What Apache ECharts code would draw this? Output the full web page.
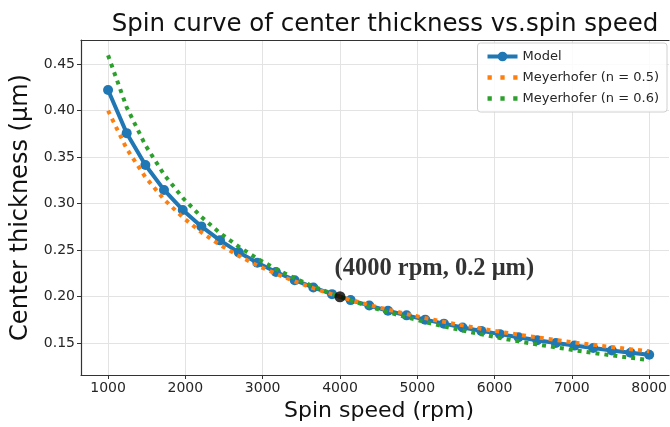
<!DOCTYPE html>
<html>
<head>
<meta charset="utf-8">
<script src="https://cdn.jsdelivr.net/npm/echarts@6/dist/echarts.min.js"></script>
<style>
  html, body { margin: 0; padding: 0; background: #fff; }
  #chart { width: 670px; height: 427px; }
</style>
</head>
<body>
<div id="chart"></div>
<script>
// Spin speed samples (rpm) shared by all three curves.
const speeds = [
  1000, 1241, 1483, 1724, 1966, 2207, 2448, 2690, 2931, 3172,
  3414, 3655, 3897, 4138, 4379, 4621, 4862, 5103, 5345, 5586,
  5828, 6069, 6310, 6552, 6793, 7034, 7276, 7517, 7759, 8000,
];
// Center thickness (µm).
const model = [
  0.4222, 0.3758, 0.3415, 0.3148, 0.2933, 0.2756, 0.2606, 0.2477, 0.2365, 0.2266,
  0.2178, 0.2100, 0.2028, 0.1964, 0.1905, 0.1850, 0.1800, 0.1754, 0.1711, 0.1670,
  0.1633, 0.1598, 0.1564, 0.1533, 0.1503, 0.1475, 0.1449, 0.1423, 0.1399, 0.1377,
];
const meyer05 = [
  0.4000, 0.3590, 0.3285, 0.3046, 0.2853, 0.2693, 0.2556, 0.2439, 0.2336, 0.2246,
  0.2165, 0.2092, 0.2026, 0.1966, 0.1911, 0.1861, 0.1814, 0.1771, 0.1730, 0.1692,
  0.1657, 0.1624, 0.1592, 0.1563, 0.1535, 0.1508, 0.1483, 0.1459, 0.1436, 0.1414,
];
const meyer06 = [
  0.4595, 0.4036, 0.3628, 0.3314, 0.3063, 0.2858, 0.2685, 0.2538, 0.2410, 0.2298,
  0.2200, 0.2111, 0.2032, 0.1960, 0.1894, 0.1834, 0.1779, 0.1728, 0.1681, 0.1637,
  0.1596, 0.1557, 0.1521, 0.1487, 0.1456, 0.1425, 0.1397, 0.1370, 0.1344, 0.1320,
];
const refPoint = [4000, 0.2];
const refLabel = "(4000 rpm, 0.2 μm)";

const xTicks = [1000, 2000, 3000, 4000, 5000, 6000, 7000, 8000];
const yTicks = [0.15, 0.20, 0.25, 0.30, 0.35, 0.40, 0.45];
const X_MIN = 650, X_MAX = 8257;

const FONT = "DejaVu Sans";
const BLUE = "#1f77b4", ORANGE = "#ff7f0e", GREEN = "#2ca02c";
const INK = "#262626", SPINE = "#333333", GRIDLINE = "#e3e3e3";
// three square dots, same look as the dotted curves
const DOTS_ICON = "path://M0,0h4v4h-4z M12,0h4v4h-4z M24,0h4v4h-4z";

const pairs = (ys) => speeds.map((x, i) => [x, ys[i]]);

function axisCommon(ticks, fmt, nameSize) {
  return {
    axisLine: { show: true, onZero: false, lineStyle: { color: SPINE, width: 1.2 } },
    axisTick: { show: true, customValues: ticks, length: 4, lineStyle: { color: SPINE, width: 1 } },
    axisLabel: { customValues: ticks, formatter: fmt, color: INK, fontFamily: FONT, fontSize: 14, margin: 6 },
    splitLine: { show: true, lineStyle: { color: GRIDLINE, width: 1 } },
    nameLocation: "middle",
    nameTextStyle: { color: "#111", fontFamily: FONT, fontSize: nameSize },
  };
}

const dotted = (color) => ({ color, width: 4, type: [4, 5], cap: "butt" });

const chart = echarts.init(document.getElementById("chart"), null, { renderer: "canvas" });
chart.setOption({
  animation: false,
  backgroundColor: "#fff",
  title: {
    text: "Spin curve of center thickness vs.spin speed",
    left: 380, textAlign: "center", top: 7,
    textStyle: { color: "#111", fontFamily: FONT, fontSize: 24.5, fontWeight: "normal" },
  },
  // the plot runs a little past the right edge of the picture, so no right spine
  grid: { left: 81, right: 0, top: 40, bottom: 49, show: false },
  legend: {
    orient: "vertical", right: 3, top: 43,
    padding: [7, 8, 7, 8], itemGap: 8, itemWidth: 30, itemHeight: 12,
    backgroundColor: "rgba(255,255,255,0.85)", borderColor: "#d0d0d0", borderWidth: 1, borderRadius: 3,
    textStyle: { color: INK, fontFamily: FONT, fontSize: 13 },
    data: [
      { name: "Model", lineStyle: { width: 4 } },
      { name: "Meyerhofer (n = 0.5)", icon: DOTS_ICON },
      { name: "Meyerhofer (n = 0.6)", icon: DOTS_ICON },
    ],
  },
  xAxis: [
    {
      type: "value", min: X_MIN, max: X_MAX,
      name: "Spin speed (rpm)", nameGap: 25,
      ...axisCommon(xTicks, (v) => String(v), 22),
      nameTextStyle: { color: "#111", fontFamily: FONT, fontSize: 22, padding: [0, 0, 0, 8] },
    },
    {
      // top spine only
      type: "value", position: "top", min: X_MIN, max: X_MAX,
      axisLine: { show: true, onZero: false, lineStyle: { color: SPINE, width: 1.2 } },
      axisTick: { show: false }, axisLabel: { show: false }, splitLine: { show: false },
    },
  ],
  yAxis: {
    type: "value", min: 0.1159, max: 0.4759,
    name: "Center thickness (μm)", nameGap: 45,
    ...axisCommon(yTicks, (v) => v.toFixed(2), 24),
  },
  series: [
    {
      name: "Model", type: "line", data: pairs(model),
      symbol: "circle", symbolSize: 10, showSymbol: true,
      lineStyle: { color: BLUE, width: 4 }, itemStyle: { color: BLUE }, z: 2,
    },
    {
      name: "Meyerhofer (n = 0.5)", type: "line", data: pairs(meyer05),
      symbol: "none", symbolKeepAspect: true,
      lineStyle: dotted(ORANGE), itemStyle: { color: ORANGE }, z: 3,
    },
    {
      name: "Meyerhofer (n = 0.6)", type: "line", data: pairs(meyer06),
      symbol: "none", symbolKeepAspect: true,
      lineStyle: dotted(GREEN), itemStyle: { color: GREEN }, z: 4,
    },
    {
      name: "ref", type: "scatter", data: [refPoint],
      symbolSize: 11, itemStyle: { color: "#000" }, z: 5,
      label: {
        show: true, formatter: refLabel, position: [0, -23],
        align: "left", verticalAlign: "middle",
        color: "#000", fontFamily: "Liberation Serif", fontWeight: "bold", fontSize: 24.5,
      },
    },
  ],
});
</script>
</body>
</html>
